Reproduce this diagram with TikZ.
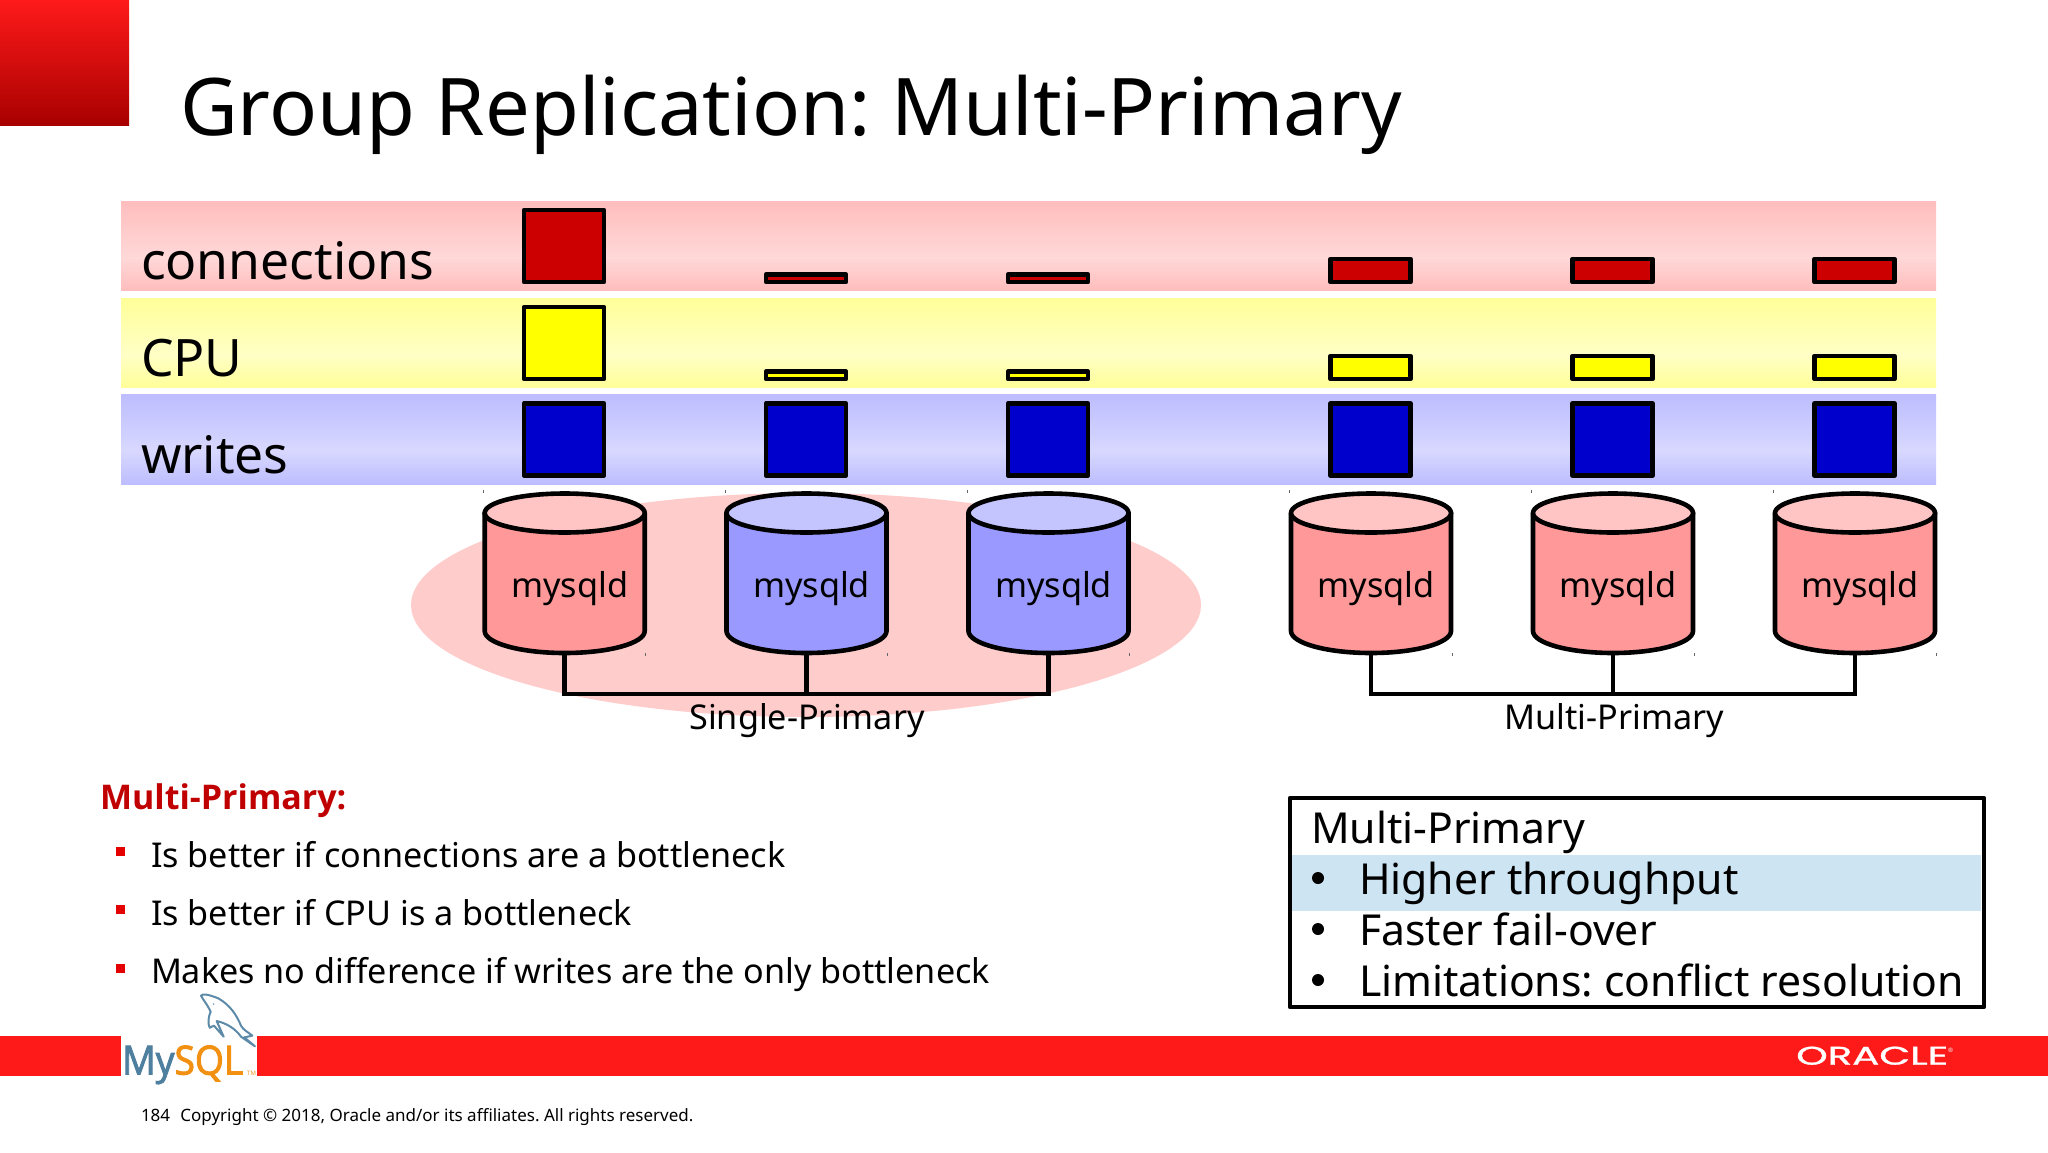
\documentclass[tikz,border=0pt]{standalone}
\usepackage{fontspec}
\setmainfont{Noto Sans}
\newfontfamily\logofont[FakeBold=2.4]{Open Sans}
\newfontfamily\headfont{Open Sans}
\newfontfamily\orafont[FakeBold=1]{Poppins}
\usetikzlibrary{calc}
\frenchspacing
\definecolor{barred}{HTML}{FF1A1A}
\definecolor{hdrdark}{HTML}{A80000}
\definecolor{pinkA}{HTML}{FFBDBD}
\definecolor{pinkB}{HTML}{FFD8D8}
\definecolor{yelA}{HTML}{FFFF99}
\definecolor{yelB}{HTML}{FFFFC6}
\definecolor{bluA}{HTML}{BDBDFF}
\definecolor{bluB}{HTML}{D8D8FF}
\definecolor{sqred}{HTML}{CC0000}
\definecolor{sqyel}{HTML}{FFFF00}
\definecolor{sqblu}{HTML}{0000CC}
\definecolor{cylredbody}{HTML}{FF9999}
\definecolor{cylredtop}{HTML}{FFC4C4}
\definecolor{cylblubody}{HTML}{9999FF}
\definecolor{cylblutop}{HTML}{C4C4FF}
\definecolor{ellcol}{HTML}{FFCCCC}
\definecolor{hilite}{HTML}{CDE4F3}
\definecolor{headred}{HTML}{C00000}
\definecolor{mysqlblue}{HTML}{4F7F9F}
\definecolor{mysqlorange}{HTML}{F29111}
\definecolor{dolphin}{HTML}{5C8AA8}
\tikzset{
  txt/.style={inner sep=0pt,outer sep=0pt,anchor=base west,text=black},
  ctxt/.style={inner sep=0pt,outer sep=0pt,anchor=base,text=black},
  meter/.style={draw=black,line width=4.6pt,line join=round},
  cylline/.style={draw=black,line width=4.6pt,line join=round},
  tick/.style={draw=black!60,line width=.8pt},
  conn/.style={draw=black,line width=4.6pt},
  cylbox/.style={inner sep=0pt,outer sep=0pt,minimum width=160pt,minimum height=160pt}
}
% #1 name, #2 centre x, #3 body colour, #4 top colour
\newcommand{\dbcyl}[4]{%
  \path[fill=#3,cylline] (#2-80,513) -- (#2-80,631) arc[start angle=180,end angle=0,x radius=80,y radius=22] -- (#2+80,513) -- cycle;
  \path[fill=#4,cylline] (#2,513) ellipse[x radius=80,y radius=19.5];
  \node[cylbox] (#1) at (#2,573) {};
  \node[txt] (#1t) at (#2-53.5,597) {\fontsize{34.3}{40}\selectfont mysqld};
  \draw[tick] (#2-81.5,490) -- (#2-81.5,493);
  \draw[tick] (#2+81,653) -- (#2+81,656);
}
\begin{document}
\begin{tikzpicture}[x=1pt,y=-1pt]
\useasboundingbox (0,0) rectangle (2048,1152);
\fill[white] (0,0) rectangle (2048,1152);
% header
\shade[top color=barred,bottom color=hdrdark] (0,0) rectangle (129,125);
\node[txt] (title) at (180,135) {\fontsize{79.5}{96}\selectfont Group Replication: Multi-Primary};
% bands
\shade[top color=pinkA,bottom color=pinkB] (121,201) rectangle (1936,258);
\shade[top color=pinkB,bottom color=pinkA] (121,257.5) rectangle (1936,290);
\shade[top color=yelA,bottom color=yelB] (121,298) rectangle (1936,355);
\shade[top color=yelB,bottom color=yelA] (121,354.5) rectangle (1936,387);
\shade[top color=bluA,bottom color=bluB] (121,394.5) rectangle (1936,451);
\shade[top color=bluB,bottom color=bluA] (121,450.5) rectangle (1936,484);
\node[txt] (lconn) at (141,279) {\fontsize{51.6}{60}\selectfont connections};
\node[txt] (lcpu) at (141,376) {\fontsize{51.6}{60}\selectfont CPU};
\node[txt] (lwrites) at (141,473) {\fontsize{51.6}{60}\selectfont writes};
% meters
\foreach \mx in {524,766,1008,1330.5,1572.5,1814.5}{
  \path[meter,fill=sqblu] (\mx,403.4) rectangle ++(80,72.2);
}
\path[meter,fill=sqred] (524,210) rectangle ++(80,72);
\path[meter,fill=sqyel] (524,307) rectangle ++(80,72);
\foreach \mx in {766,1008}{
  \path[meter,fill=sqred] (\mx,274.5) rectangle ++(80,7.5);
  \path[meter,fill=sqyel] (\mx,371.5) rectangle ++(80,7.5);
}
\foreach \mx in {1330.5,1572.5,1814.5}{
  \path[meter,fill=sqred] (\mx,259) rectangle ++(80,23);
  \path[meter,fill=sqyel] (\mx,356) rectangle ++(80,23);
}
% ellipse
\fill[ellcol] (806,605) ellipse[x radius=395,y radius=112];
% cylinders
\dbcyl{ca}{564.7}{cylredbody}{cylredtop}
\dbcyl{cb}{806.5}{cylblubody}{cylblutop}
\dbcyl{cc}{1048.5}{cylblubody}{cylblutop}
\dbcyl{cd}{1371}{cylredbody}{cylredtop}
\dbcyl{ce}{1613}{cylredbody}{cylredtop}
\dbcyl{cf}{1855}{cylredbody}{cylredtop}
% connectors
\coordinate (busl) at (806.5,694);
\coordinate (busr) at (1613,694);
\draw[conn] (ca.south) |- (busl) -| (cc.south);
\draw[conn] (cb.south) -- (busl);
\draw[conn] (cd.south) |- (busr) -| (cf.south);
\draw[conn] (ce.south) -- (busr);
\node[ctxt] (lsingle) at (807,729.5) {\fontsize{34.2}{40}\selectfont Single-Primary};
\node[ctxt] (lmulti) at (1614,729.5) {\fontsize{34.2}{40}\selectfont Multi-Primary};
% left text
\node[txt] (mphead) at (100,809) {\fontsize{34}{40}\selectfont\headfont\bfseries\color{headred} Multi-Primary:};
\foreach \by/\ty/\t in {847/867/{Is better if connections are a bottleneck},905/925.5/{Is better if CPU is a bottleneck},964/983.5/{Makes no difference if writes are the only bottleneck}}{
  \fill[red!90!black] (115.7,\by) rectangle ++(9,9);
  \node[txt] at (151,\ty) {\fontsize{34.15}{40}\selectfont \t};
}
% box
\fill[hilite] (1292,855) rectangle (1981,911);
\draw[black,line width=4.6pt,line join=round] (1290,798) rectangle (1984,1007);
\node[txt] (bhead) at (1311,843) {\fontsize{42.7}{50}\selectfont Multi-Primary};
\foreach \ly/\t in {894/{Higher throughput},945/{Faster fail-over},996/{Limitations: conflict resolution}}{
  \fill[black] (1318,\ly-16) circle (6);
  \node[txt] at (1359,\ly) {\fontsize{42.7}{50}\selectfont \t};
}
% footer bar
\fill[barred] (0,1036) rectangle (120.7,1076);
\fill[barred] (257,1036) rectangle (2048,1076);
\node[inner sep=0pt,anchor=south west,text=white] (oracle) at (1796,1065) {\resizebox{152pt}{18pt}{\orafont ORACLE}};
\node[txt,text=white] (oreg) at (1948,1052) {\fontsize{6}{7}\selectfont ®};
% MySQL logo
\node[inner sep=0pt,anchor=base west] (mysql) at (122,1074.5) {\scalebox{.93}[1]{\fontsize{40}{46}\selectfont\logofont\color{mysqlblue}My\color{mysqlorange}SQL}};
\node[inner sep=0pt,anchor=base west,text=mysqlorange] (tm) at (247,1075) {\fontsize{6}{7}\selectfont\headfont TM};
\begin{scope}[shift={(115,985)},x=.3333pt,y=-.3333pt]
  \draw[dolphin,line width=2pt,line join=round,line cap=round]
    (258,32) .. controls (262,24) and (285,30) .. (310,40)
    .. controls (345,60) and (365,90) .. (378,122)
    .. controls (385,135) and (400,142) .. (412,152)
    -- (388,157) -- (420,184) -- (378,155)
    .. controls (360,130) and (335,115) .. (305,108)
    -- (326,155) -- (297,122) -- (284,128)
    .. controls (278,115) and (280,95) .. (287,80)
    .. controls (278,60) and (265,45) .. (258,32) -- cycle;
  \fill[dolphin] (296,57) circle (2.5);
\end{scope}
% copyright
\node[txt] (copy) at (141,1121) {\fontsize{17}{20}\selectfont 184\hspace{.6em}Copyright © 2018, Oracle and/or its affiliates. All rights reserved.};
\end{tikzpicture}
\end{document}
